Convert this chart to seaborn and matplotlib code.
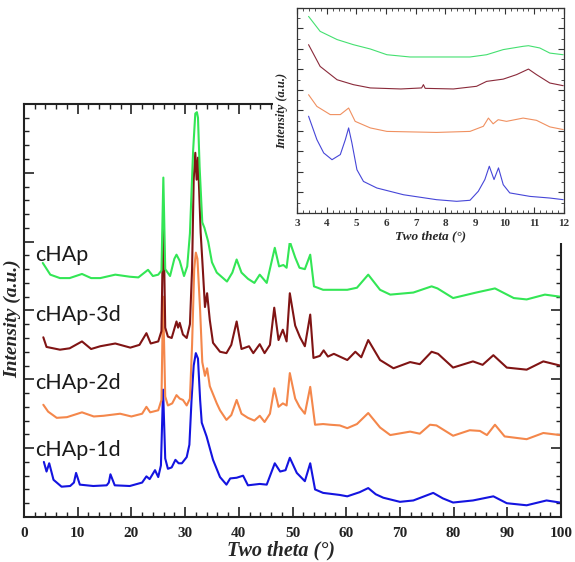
import matplotlib
matplotlib.use("Agg")
import matplotlib.pyplot as plt
import seaborn as sns
import pandas as pd
from matplotlib.ticker import MultipleLocator, NullFormatter
from matplotlib.patches import Rectangle

sns.set_style("ticks")
plt.rcParams['font.family'] = ['Liberation Serif', 'DejaVu Serif']

# ---------------- main pattern data (stacked, arbitrary units) ----------------
labels = ["cHAp", "cHAp-3d", "cHAp-2d", "cHAp-1d"]
colors = ["#33e655", "#801414", "#f4874b", "#1414e0"]
inset_colors = ["#44e070", "#8a2a3a", "#f09060", "#4646d8"]

x_1d = [3.7, 4.2, 4.7, 5.5, 7.0, 8.6, 9.3, 9.7, 10.4, 12.9, 15.4, 15.8, 16.1, 16.9, 19.7, 22.0, 22.8,
        23.4, 24.4, 25.0, 25.5, 25.9, 26.3, 26.8, 27.5, 28.2, 28.8, 29.4, 30.3, 30.8, 31.2, 31.6, 32.0,
        32.4, 32.8, 33.1, 34.0, 35.2, 36.5, 37.7, 38.4, 39.6, 40.8, 41.7, 43.9, 45.2, 46.7, 47.7, 48.7,
        49.5, 50.8, 52.3, 53.3, 54.2, 55.7, 58.8, 60.2, 62.5, 64.1, 65.5, 66.9, 70.0, 72.5, 76.2, 78.0,
        79.9, 83.6, 87.4, 89.9, 93.6, 97.3, 99.8]
y_1d = [0.80, 0.66, 0.78, 0.54, 0.44, 0.45, 0.50, 0.64, 0.47, 0.45, 0.46, 0.50, 0.62, 0.46, 0.45, 0.50, 0.59,
        0.55, 0.68, 0.58, 0.75, 1.85, 0.85, 0.70, 0.72, 0.83, 0.78, 0.78, 0.87, 1.05, 1.70, 2.20, 2.38,
        2.30, 1.70, 1.37, 1.17, 0.83, 0.58, 0.47, 0.56, 0.57, 0.60, 0.46, 0.48, 0.47, 0.78, 0.66, 0.68,
        0.86, 0.64, 0.52, 0.78, 0.40, 0.35, 0.32, 0.30, 0.36, 0.42, 0.33, 0.28, 0.22, 0.24, 0.35, 0.27,
        0.21, 0.24, 0.30, 0.20, 0.17, 0.24, 0.21]

x_2d = [3.6, 4.5, 6.1, 8.0, 10.8, 13.0, 14.8, 17.9, 20.0, 22.0, 22.8, 23.5, 25.0, 25.6, 25.9, 26.3, 26.8,
        27.6, 28.4, 29.0, 29.6, 30.3, 30.9, 31.3, 31.7, 32.0, 32.3, 32.8, 33.2, 33.7, 34.1, 34.6, 35.9,
        36.5, 37.7, 38.6, 39.6, 40.5, 41.7, 42.9, 43.9, 44.8, 45.8, 46.6, 47.4, 48.2, 48.9, 49.5, 50.5,
        51.3, 52.3, 53.3, 54.2, 55.7, 57.0, 58.8, 60.2, 62.0, 64.1, 66.3, 68.2, 71.9, 73.7, 75.6, 76.8,
        79.9, 83.0, 84.9, 86.2, 87.7, 89.5, 93.6, 96.7, 99.8]
y_2d = [1.63, 1.53, 1.44, 1.45, 1.52, 1.46, 1.47, 1.50, 1.46, 1.50, 1.60, 1.52, 1.55, 1.70, 3.20, 1.75, 1.62,
        1.65, 1.77, 1.72, 1.70, 1.62, 1.72, 2.50, 3.60, 3.84, 3.75, 3.00, 2.25, 2.05, 2.16, 1.90, 1.65,
        1.55, 1.41, 1.48, 1.70, 1.50, 1.44, 1.40, 1.47, 1.38, 1.50, 1.87, 1.60, 1.65, 1.62, 2.09, 1.72,
        1.60, 1.50, 1.89, 1.34, 1.35, 1.34, 1.33, 1.29, 1.35, 1.51, 1.30, 1.19, 1.24, 1.21, 1.34, 1.33,
        1.18, 1.26, 1.25, 1.19, 1.34, 1.17, 1.13, 1.22, 1.19]

x_3d = [3.6, 4.2, 6.7, 8.5, 10.8, 12.5, 14.2, 17.0, 19.8, 21.5, 22.8, 23.6, 25.0, 25.6, 25.95, 26.3, 26.8,
        27.5, 28.4, 28.7, 29.0, 29.6, 30.3, 30.9, 31.3, 31.6, 31.9, 32.15, 32.4, 32.9, 33.3, 33.7, 34.1,
        34.6, 35.2, 36.5, 37.7, 38.6, 39.6, 40.5, 41.9, 42.7, 43.9, 44.8, 45.8, 46.6, 47.4, 48.2, 48.9,
        49.5, 50.5, 51.4, 52.3, 53.3, 53.9, 55.1, 55.8, 56.6, 57.7, 58.8, 60.2, 61.7, 62.8, 64.1, 66.3,
        68.8, 71.9, 73.7, 75.9, 77.1, 79.9, 83.6, 85.4, 87.4, 89.9, 93.6, 96.7, 99.8]
y_3d = [2.61, 2.47, 2.43, 2.45, 2.55, 2.44, 2.48, 2.52, 2.46, 2.50, 2.67, 2.52, 2.55, 2.70, 4.46, 2.75, 2.62,
        2.60, 2.84, 2.75, 2.82, 2.65, 2.60, 2.80, 3.60, 4.90, 5.29, 4.90, 5.22, 4.13, 3.60, 3.05, 3.25,
        2.86, 2.53, 2.40, 2.38, 2.50, 2.84, 2.44, 2.48, 2.38, 2.51, 2.38, 2.50, 3.04, 2.57, 2.72, 2.55,
        3.25, 2.78, 2.61, 2.48, 2.94, 2.31, 2.34, 2.42, 2.33, 2.37, 2.33, 2.28, 2.40, 2.32, 2.57, 2.28,
        2.16, 2.25, 2.22, 2.40, 2.37, 2.17, 2.26, 2.21, 2.35, 2.17, 2.14, 2.26, 2.20]

x_0 = [3.5, 4.9, 6.7, 8.5, 10.8, 12.5, 14.2, 17.0, 19.7, 21.3, 23.1, 24.0, 25.0, 25.6, 25.95, 26.3, 27.2,
       28.0, 28.4, 29.0, 29.8, 30.4, 30.9, 31.5, 31.9, 32.2, 32.4, 32.7, 33.2, 33.6, 34.3, 35.0, 35.9,
       37.8, 38.8, 39.6, 40.5, 41.7, 42.9, 43.9, 45.2, 46.7, 47.5, 48.3, 48.9, 49.5, 50.5, 51.3, 52.3,
       53.3, 54.0, 55.7, 57.0, 58.8, 60.2, 62.0, 64.1, 66.3, 68.2, 72.5, 75.9, 77.0, 79.9, 84.2, 87.7,
       91.2, 93.6, 97.0, 99.8]
y_0 = [3.69, 3.52, 3.47, 3.47, 3.53, 3.47, 3.47, 3.52, 3.49, 3.48, 3.59, 3.50, 3.52, 3.58, 4.93, 3.60, 3.50,
       3.75, 3.81, 3.72, 3.50, 3.64, 4.12, 5.33, 5.86, 5.88, 5.80, 5.09, 4.28, 4.20, 4.00, 3.70, 3.55,
       3.42, 3.55, 3.74, 3.55, 3.46, 3.40, 3.52, 3.40, 3.91, 3.64, 3.66, 3.62, 4.00, 3.77, 3.62, 3.60,
       3.81, 3.35, 3.30, 3.30, 3.30, 3.30, 3.33, 3.52, 3.30, 3.23, 3.26, 3.35, 3.32, 3.18, 3.26, 3.32,
       3.18, 3.16, 3.23, 3.20]

# ---------------- inset (low-angle) data ----------------
xi_0 = [3.39, 3.78, 4.35, 4.9, 5.47, 6.03, 6.81, 7.7, 8.83, 9.39, 9.95, 10.62, 10.8, 11.18, 11.52, 11.97]
yi_0 = [9.59, 8.86, 8.46, 8.21, 8.00, 7.72, 7.61, 7.61, 7.61, 7.72, 7.97, 8.13, 8.16, 8.05, 7.80, 7.72]
xi_3d = [3.39, 3.78, 4.35, 4.9, 5.47, 6.5, 7.2, 7.26, 7.32, 8.27, 9.05, 9.39, 9.95, 10.4, 10.8, 11.07, 11.52, 11.97]
yi_3d = [8.21, 7.15, 6.50, 6.26, 6.10, 6.05, 6.10, 6.26, 6.08, 6.05, 6.18, 6.42, 6.53, 6.75, 7.02, 6.75, 6.34, 6.21]
xi_2d = [3.39, 3.67, 4.12, 4.46, 4.74, 4.96, 5.47, 6.03, 7.7, 8.83, 9.28, 9.45, 9.61, 9.78, 10.06, 10.62, 11.07, 11.52, 11.97]
yi_2d = [5.77, 5.20, 4.80, 4.80, 5.12, 4.47, 4.15, 3.98, 3.93, 3.98, 4.23, 4.63, 4.35, 4.55, 4.47, 4.63, 4.52, 4.20, 4.07]
xi_1d = [3.39, 3.67, 3.90, 4.18, 4.46, 4.63, 4.74, 4.85, 5.02, 5.24, 5.69, 6.59, 7.7, 8.38, 8.83, 9.11, 9.33,
         9.48, 9.64, 9.79, 9.95, 10.17, 10.85, 11.52, 11.97]
yi_1d = [4.72, 3.58, 2.93, 2.60, 2.85, 3.58, 4.15, 3.42, 2.11, 1.54, 1.22, 0.89, 0.65, 0.57, 0.62, 1.06, 1.63,
         2.28, 1.63, 2.20, 1.38, 0.98, 0.81, 0.73, 0.65]

label_y = [3.81, 2.94, 1.95, 0.97]
main_xs = [x_0, x_3d, x_2d, x_1d]
main_ys = [y_0, y_3d, y_2d, y_1d]
ins_xs = [xi_0, xi_3d, xi_2d, xi_1d]
ins_ys = [yi_0, yi_3d, yi_2d, yi_1d]

main_df = pd.concat([pd.DataFrame({"theta": xs, "I": ys, "sample": lab})
                     for xs, ys, lab in zip(main_xs, main_ys, labels)], ignore_index=True)
ins_df = pd.concat([pd.DataFrame({"theta": xs, "I": ys, "sample": lab})
                    for xs, ys, lab in zip(ins_xs, ins_ys, labels)], ignore_index=True)

fig = plt.figure(figsize=(5.75, 5.62), dpi=100)
ax = fig.add_axes([0.0417, 0.0801, 0.934, 0.735])

sns.lineplot(data=main_df, x="theta", y="I", hue="sample", hue_order=labels[::-1],
             palette=dict(zip(labels, colors)), estimator=None, sort=False,
             linewidth=1.5, legend=False, ax=ax)

ax.set_xlim(0, 100)
ax.set_ylim(0, 6)
ax.xaxis.set_major_locator(MultipleLocator(10))
ax.xaxis.set_minor_locator(MultipleLocator(2))
ax.yaxis.set_major_locator(MultipleLocator(1))
ax.yaxis.set_minor_locator(MultipleLocator(0.2))
ax.yaxis.set_major_formatter(NullFormatter())
ax.tick_params(which="both", direction="in", top=True, right=True, colors="#222222")
ax.tick_params(which="major", length=7, width=1.2)
ax.tick_params(which="minor", length=3.5, width=1.0)
ax.tick_params(axis="x", labelsize=11, pad=7)
for lab in ax.get_xticklabels():
    lab.set_fontweight("bold")
for sp in ax.spines.values():
    sp.set_linewidth(1.5)
    sp.set_color("#222222")
ax.set_xlabel("Two theta (°)", fontsize=14.5, fontweight="bold", style="italic")
ax.xaxis.set_label_coords(0.479, -0.058)
ax.set_ylabel("Intensity (a.u.)", fontsize=14, fontweight="bold", style="italic")
ax.yaxis.set_label_coords(-0.006, 0.48)

for lab, ly in zip(labels, label_y):
    ax.text(2.0, ly, lab, fontsize=15.5, family=["Lato", "DejaVu Sans"], va="center", ha="left",
            color="#1a1a1a")

# white cover behind the inset
fig.patches.append(Rectangle((0.475, 0.5676), 0.525, 0.4324, transform=fig.transFigure,
                             facecolor="white", edgecolor="none", zorder=5))

axi = fig.add_axes([0.5165, 0.621, 0.4645, 0.3648], zorder=10)
sns.lineplot(data=ins_df, x="theta", y="I", hue="sample", hue_order=labels[::-1],
             palette=dict(zip(labels, inset_colors)), estimator=None, sort=False,
             linewidth=0.8, legend=False, ax=axi)
axi.set_xlim(3, 12)
axi.set_ylim(0, 10)
axi.xaxis.set_major_locator(MultipleLocator(1))
axi.xaxis.set_minor_locator(MultipleLocator(0.2))
axi.yaxis.set_major_locator(MultipleLocator(1))
axi.yaxis.set_minor_locator(MultipleLocator(0.5))
axi.yaxis.set_major_formatter(NullFormatter())
axi.tick_params(which="both", direction="in", top=True, right=True, colors="#333333")
axi.tick_params(which="major", length=4, width=0.8)
axi.tick_params(which="minor", length=2, width=0.6)
axi.tick_params(axis="x", labelsize=8, pad=4)
for lab in axi.get_xticklabels():
    lab.set_fontweight("bold")
for sp in axi.spines.values():
    sp.set_linewidth(0.9)
    sp.set_color("#333333")
axi.set_xlabel("Two theta (°)", fontsize=9.5, fontweight="bold", style="italic", labelpad=2)
axi.set_ylabel("Intensity (a.u.)", fontsize=9, fontweight="bold", style="italic", labelpad=3)

fig.savefig("out.png", dpi=100)
